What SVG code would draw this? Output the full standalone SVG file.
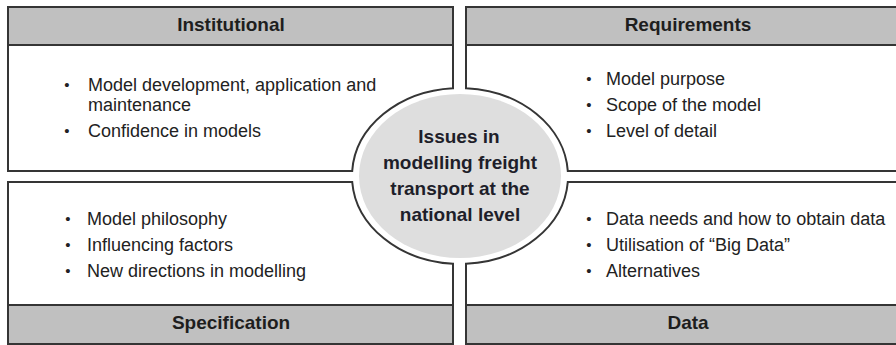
<svg xmlns="http://www.w3.org/2000/svg" width="896" height="345" viewBox="0 0 896 345">
<style>
.box{fill:#ffffff;stroke:#353535;stroke-width:2}
.hdr{fill:#c0c0c0}
.line{stroke:#353535;stroke-width:2;fill:none}
.ht{font-family:"Liberation Sans",Arial,sans-serif;font-weight:bold;font-size:19px;fill:#1e1e1e;text-anchor:middle}
.bt{font-family:"Liberation Sans",Arial,sans-serif;font-size:18px;fill:#222222}
.bl{font-family:"Liberation Sans",Arial,sans-serif;font-size:15px;fill:#222222;text-anchor:middle}
.ct{font-family:"Liberation Sans",Arial,sans-serif;font-weight:bold;font-size:19px;fill:#1e1e2a;text-anchor:middle}
</style>
<rect width="896" height="345" fill="#ffffff"/>

<g id="institutional">
  <path class="box" d="M8,7 H453 V88.2 A108,88 0 0 0 352.2,171 H8 Z"/>
  <rect class="hdr" x="9" y="8" width="443" height="37"/>
  <path class="line" d="M8,7 H453 M8,45 H453 M8,7 V45 M453,7 V45"/>
  <text class="ht" x="231" y="31">Institutional</text>
  <text class="bl" x="67" y="90">•</text>
  <text class="bt" x="88" y="91">Model development, application and</text>
  <text class="bt" x="88" y="111">maintenance</text>
  <text class="bl" x="67" y="136">•</text>
  <text class="bt" x="88" y="137">Confidence in models</text>
</g>

<g id="requirements">
  <path class="box" d="M466,88.2 V7 H911 V171 H567.8 A108,88 0 0 0 466,88.2 Z"/>
  <rect class="hdr" x="467" y="8" width="443" height="37"/>
  <path class="line" d="M466,7 H911 M466,45 H911 M466,7 V45"/>
  <text class="ht" x="688" y="31">Requirements</text>
  <text class="bl" x="589" y="84">•</text>
  <text class="bt" x="606" y="85">Model purpose</text>
  <text class="bl" x="589" y="110">•</text>
  <text class="bt" x="606" y="111">Scope of the model</text>
  <text class="bl" x="589" y="136">•</text>
  <text class="bt" x="606" y="137">Level of detail</text>
</g>

<g id="specification">
  <path class="box" d="M8,182 H352.2 A108,88 0 0 0 453,263.8 V344 H8 Z"/>
  <rect class="hdr" x="9" y="305" width="443" height="38"/>
  <path class="line" d="M8,305 H453 M8,344 H453"/>
  <text class="ht" x="231" y="329">Specification</text>
  <text class="bl" x="68" y="224">•</text>
  <text class="bt" x="87" y="225">Model philosophy</text>
  <text class="bl" x="68" y="250">•</text>
  <text class="bt" x="87" y="251">Influencing factors</text>
  <text class="bl" x="68" y="276">•</text>
  <text class="bt" x="87" y="277">New directions in modelling</text>
</g>

<g id="data">
  <path class="box" d="M466,263.8 A108,88 0 0 0 567.8,182 H911 V344 H466 Z"/>
  <rect class="hdr" x="467" y="305" width="443" height="38"/>
  <path class="line" d="M466,305 H911 M466,344 H911"/>
  <text class="ht" x="688" y="329">Data</text>
  <text class="bl" x="589" y="224">•</text>
  <text class="bt" x="606" y="225">Data needs and how to obtain data</text>
  <text class="bl" x="589" y="250">•</text>
  <text class="bt" x="606" y="251">Utilisation of “Big Data”</text>
  <text class="bl" x="589" y="276">•</text>
  <text class="bt" x="606" y="277">Alternatives</text>
</g>

<g id="center">
  <ellipse cx="460" cy="176" rx="101" ry="82" fill="#dedede"/>
  <text class="ct" x="459" y="143">Issues in</text>
  <text class="ct" x="460" y="169">modelling freight</text>
  <text class="ct" x="460" y="195">transport at the</text>
  <text class="ct" x="460" y="221">national level</text>
</g>
</svg>
